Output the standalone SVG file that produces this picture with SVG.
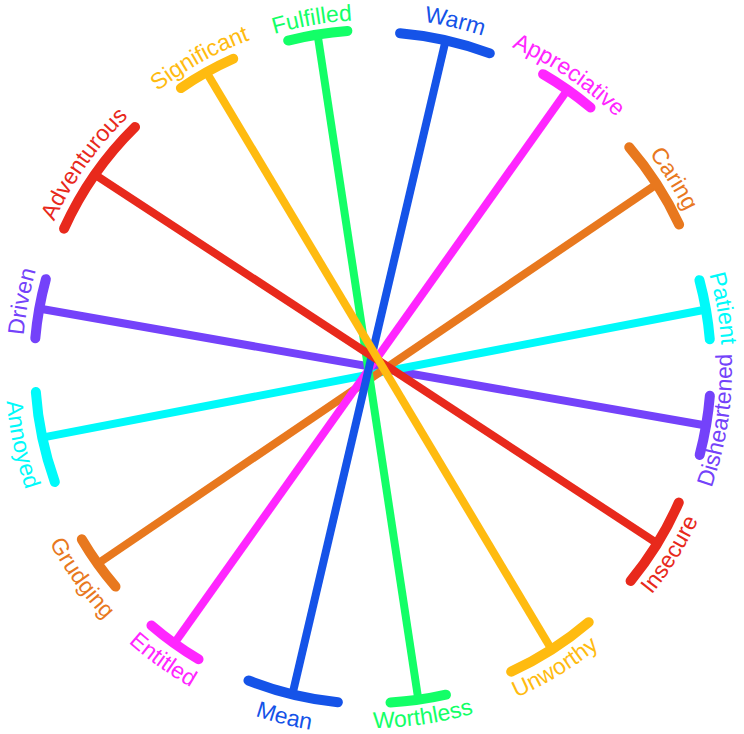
<svg xmlns="http://www.w3.org/2000/svg" xmlns:xlink="http://www.w3.org/1999/xlink" width="744" height="734" viewBox="0 0 744 734">
<defs>
<style>
.ln{fill:none;stroke-width:8;stroke-linecap:butt}
.cap{fill:none;stroke-width:10;stroke-linecap:round}
.lbl{font-family:"Liberation Sans",Arial,Helvetica,sans-serif;font-size:23px;text-anchor:middle}
.blue{stroke:#1553E8;fill:#1553E8}
.green{stroke:#13FF67;fill:#13FF67}
.amber{stroke:#FFBB10;fill:#FFBB10}
.red{stroke:#E8291C;fill:#E8291C}
.purple{stroke:#7442FA;fill:#7442FA}
.cyan{stroke:#00FAFA;fill:#00FAFA}
.orange{stroke:#E8781E;fill:#E8781E}
.magenta{stroke:#FF26FF;fill:#FF26FF}
text.lbl{stroke:none}
path.cap{fill:none}
line.ln{fill:none}
</style>
<path id="topArc" d="M372,718 A350,350 0 1 1 372,18 A350,350 0 1 1 372,718"/>
<path id="topArcF" d="M372,716 A348,348 0 1 1 372,20 A348,348 0 1 1 372,716"/>
<path id="botArcR" d="M372,8 A360,360 0 1 0 372,728 A360,360 0 1 0 372,8"/>
<path id="botArcL" d="M372,1 A367,367 0 1 0 372,735 A367,367 0 1 0 372,1"/>
</defs>
<rect width="744" height="734" fill="#FFFFFF"/>
<g id="connectors">
<line class="ln purple" x1="39.0" y1="308.5" x2="706.0" y2="425.5"/>
<line class="ln cyan" x1="42.1" y1="437.6" x2="706.0" y2="309.5"/>
<line class="ln orange" x1="97.6" y1="563.7" x2="656.5" y2="184.4"/>
<line class="ln magenta" x1="174.3" y1="643.4" x2="567.7" y2="89.5"/>
<line class="ln green" x1="317.5" y1="34.0" x2="418.4" y2="700.0"/>
<line class="ln blue" x1="445.7" y1="40.1" x2="292.3" y2="694.9"/>
<line class="ln red" x1="94.5" y1="174.3" x2="657.6" y2="543.6"/>
<line class="ln amber" x1="206.5" y1="72.4" x2="551.6" y2="649.5"/>
</g>
<g id="warm">
<path class="cap blue" transform="rotate(12.66 372 368)" d="M326,35.15 A336,336 0 0 1 418,35.15"/>
<text class="lbl blue"><textPath xlink:href="#topArc" href="#topArc" startOffset="53.75%">Warm</textPath></text>
</g>
<g id="appreciative">
<path class="cap magenta" transform="rotate(35.1 372 368)" d="M343,29.24 A340,340 0 0 1 401,29.24"/>
<text class="lbl magenta"><textPath xlink:href="#topArc" href="#topArc" startOffset="59.42%">Appreciative</textPath></text>
</g>
<g id="caring">
<path class="cap orange" transform="rotate(57.16 372 368)" d="M326,32.14 A339,339 0 0 1 418,32.14"/>
<text class="lbl orange"><textPath xlink:href="#topArc" href="#topArc" startOffset="66.08%">Caring</textPath></text>
</g>
<g id="patient">
<path class="cap cyan" transform="rotate(80.06 372 368)" d="M342,30.33 A339,339 0 0 1 402,30.33"/>
<text class="lbl cyan"><textPath xlink:href="#topArc" href="#topArc" startOffset="72.31%">Patient</textPath></text>
</g>
<g id="disheartened">
<path class="cap purple" transform="rotate(99.77 372 368)" d="M342,30.33 A339,339 0 0 1 402,30.33"/>
<text class="lbl purple"><textPath xlink:href="#botArcR" href="#botArcR" startOffset="72.61%">Disheartened</textPath></text>
</g>
<g id="insecure">
<path class="cap red" transform="rotate(121.58 372 368)" d="M326,36.17 A335,335 0 0 1 418,36.17"/>
<text class="lbl red"><textPath xlink:href="#botArcR" href="#botArcR" startOffset="66.1%">Insecure</textPath></text>
</g>
<g id="unworthy">
<path class="cap amber" transform="rotate(147.46 372 368)" d="M326,37.17 A334,334 0 0 1 418,37.17"/>
<text class="lbl amber"><textPath xlink:href="#botArcR" href="#botArcR" startOffset="58.72%">Unworthy</textPath></text>
</g>
<g id="worthless">
<path class="cap green" transform="rotate(172.04 372 368)" d="M344,34.17 A335,335 0 0 1 400,34.17"/>
<text class="lbl green"><textPath xlink:href="#botArcR" href="#botArcR" startOffset="52.31%">Worthless</textPath></text>
</g>
<g id="mean">
<path class="cap blue" transform="rotate(193.7 372 368)" d="M326,35.15 A336,336 0 0 1 418,35.15"/>
<text class="lbl blue"><textPath xlink:href="#botArcL" href="#botArcL" startOffset="46.08%">Mean</textPath></text>
</g>
<g id="entitled">
<path class="cap magenta" transform="rotate(215.68 372 368)" d="M343,30.24 A339,339 0 0 1 401,30.24"/>
<text class="lbl magenta"><textPath xlink:href="#botArcL" href="#botArcL" startOffset="40.11%">Entitled</textPath></text>
</g>
<g id="grudging">
<path class="cap orange" transform="rotate(234.5 372 368)" d="M343,32.25 A337,337 0 0 1 401,32.25"/>
<text class="lbl orange"><textPath xlink:href="#botArcL" href="#botArcL" startOffset="34.97%">Grudging</textPath></text>
</g>
<g id="annoyed">
<path class="cap cyan" transform="rotate(258.08 372 368)" d="M326,34.15 A337,337 0 0 1 418,34.15"/>
<text class="lbl cyan"><textPath xlink:href="#botArcL" href="#botArcL" startOffset="28.42%">Annoyed</textPath></text>
</g>
<g id="driven">
<path class="cap purple" transform="rotate(280.14 372 368)" d="M342,31.33 A338,338 0 0 1 402,31.33"/>
<text class="lbl purple"><textPath xlink:href="#topArc" href="#topArc" startOffset="28%">Driven</textPath></text>
</g>
<g id="adventurous">
<path class="cap red" transform="rotate(304.92 372 368)" d="M310,35.74 A338,338 0 0 1 434,35.74"/>
<text class="lbl red"><textPath xlink:href="#topArc" href="#topArc" startOffset="34.81%">Adventurous</textPath></text>
</g>
<g id="significant">
<path class="cap amber" transform="rotate(330.76 372 368)" d="M342,30.33 A339,339 0 0 1 402,30.33"/>
<text class="lbl amber"><textPath xlink:href="#topArc" href="#topArc" startOffset="41.92%">Significant</textPath></text>
</g>
<g id="fulfilled">
<path class="cap green" transform="rotate(350.73 372 368)" d="M342,31.33 A338,338 0 0 1 402,31.33"/>
<text class="lbl green"><textPath xlink:href="#topArcF" href="#topArcF" startOffset="47.28%">Fulfilled</textPath></text>
</g>
</svg>
